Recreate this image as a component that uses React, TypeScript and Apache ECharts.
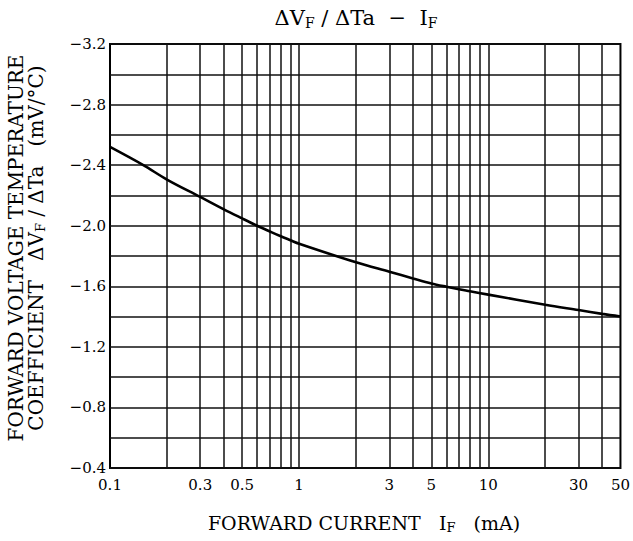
import React, { useEffect, useRef } from "react";
import * as echarts from "echarts";

// Forward current I_F (mA) and temperature coefficient ΔV_F/ΔTa (mV/°C)
const currentMA = [0.1, 0.15, 0.2, 0.3, 0.4, 0.5, 0.6, 0.7, 0.8, 0.9, 1, 2, 3, 4, 5, 6, 7, 8, 10, 20, 30, 40, 50];
const coeffMVperC = [-2.52, -2.4, -2.305, -2.19, -2.108, -2.048, -2.0, -1.962, -1.93, -1.904, -1.881, -1.758, -1.696, -1.652, -1.619, -1.597, -1.58, -1.567, -1.545, -1.478, -1.443, -1.418, -1.401];

// Axis ticks / grid
const xGridValues = [0.2, 0.3, 0.4, 0.5, 0.6, 0.7, 0.8, 0.9, 1, 2, 3, 4, 5, 6, 7, 8, 9, 10, 20, 30, 40];
const xLabelValues = [0.1, 0.3, 0.5, 1, 3, 5, 10, 30, 50];
const yMin = -3.2;
const yMax = -0.4;
const yGridStep = 0.2;
const yLabelStep = 0.4;

const SERIF = "DejaVu Serif";

export default function App() {
  const ref = useRef<HTMLDivElement>(null);
  useEffect(() => {
    if (!ref.current) return;
    const chart = echarts.init(ref.current, null, { renderer: "svg" });
    const fmtX = (v: number) => String(Number(v.toPrecision(3)));
    chart.setOption({
      animation: false,
      backgroundColor: "#fff",
      grid: {
        left: 110,
        right: 10,
        top: 44,
        bottom: 73,
        show: true,
        borderColor: "#000",
        borderWidth: 2,
        containLabel: false,
      },
      xAxis: {
        type: "log",
        logBase: 10,
        min: 0.1,
        max: 50,
        axisLine: { show: false },
        axisTick: { show: false },
        splitLine: { show: false },
        minorSplitLine: { show: false },
        axisLabel: {
          customValues: xLabelValues,
          formatter: (v: number) => fmtX(v),
          color: "#000",
          fontFamily: SERIF,
          fontSize: 15,
          margin: 9,
          showMinLabel: true,
          showMaxLabel: true,
        },
      },
      yAxis: {
        type: "value",
        min: yMin,
        max: yMax,
        interval: yGridStep,
        inverse: true,
        axisLine: { show: false },
        axisTick: { show: false },
        splitLine: { show: true, lineStyle: { color: "#111", width: 1.5 } },
        axisLabel: {
          color: "#000",
          fontFamily: SERIF,
          fontSize: 15,
          margin: 4,
          formatter: (v: number) => {
            const k = Math.round(v / yLabelStep);
            if (Math.abs(k * yLabelStep - v) > 1e-6) return "";
            return "\u2212" + Math.abs(v).toFixed(1);
          },
        },
      },
      series: [
        {
          type: "line",
          data: currentMA.map((x, i) => [x, coeffMVperC[i]]),
          showSymbol: false,
          smooth: 0.35,
          lineStyle: { color: "#000", width: 2.6 },
          z: 5,
          markLine: {
            silent: true,
            symbol: "none",
            label: { show: false },
            lineStyle: { color: "#111", width: 1.5, type: "solid" },
            data: xGridValues.map((v) => ({ xAxis: v })),
            z: 1,
          },
        },
      ],
      graphic: [
        {
          type: "text",
          x: 356,
          y: 18,
          style: {
            text: "{n|ΔV}{s|F}{n| / ΔTa  −  I}{s|F}",
            align: "center",
            verticalAlign: "middle",
            fill: "#000",
            rich: {
              n: { fontFamily: SERIF, fontSize: 21, fill: "#000" },
              s: { fontFamily: SERIF, fontSize: 14, fill: "#000", padding: [9, 0, 0, 0] },
            },
          },
        },
        {
          type: "text",
          x: 364,
          y: 523,
          style: {
            text: "{n|FORWARD CURRENT   I}{s|F}{n|   (mA)}",
            align: "center",
            verticalAlign: "middle",
            fill: "#000",
            rich: {
              n: { fontFamily: SERIF, fontSize: 19, fill: "#000" },
              s: { fontFamily: SERIF, fontSize: 13, fill: "#000", padding: [8, 0, 0, 0] },
            },
          },
        },
        {
          type: "text",
          x: 26,
          y: 248,
          rotation: Math.PI / 2,
          style: {
            text: "{n|FORWARD VOLTAGE TEMPERATURE}\n{n|COEFFICIENT   ΔV}{s|F}{n| / ΔTa   (mV/°C)}",
            align: "center",
            verticalAlign: "middle",
            fill: "#000",
            rich: {
              n: { fontFamily: SERIF, fontSize: 20, fill: "#000", lineHeight: 20 },
              s: { fontFamily: SERIF, fontSize: 13, fill: "#000", lineHeight: 20, padding: [8, 0, 0, 0] },
            },
          },
        },
      ],
    });
    return () => chart.dispose();
  }, []);
  return (
    <div
      ref={ref}
      style={{ position: "absolute", left: 0, top: 0, width: 633, height: 541 }}
    />
  );
}
